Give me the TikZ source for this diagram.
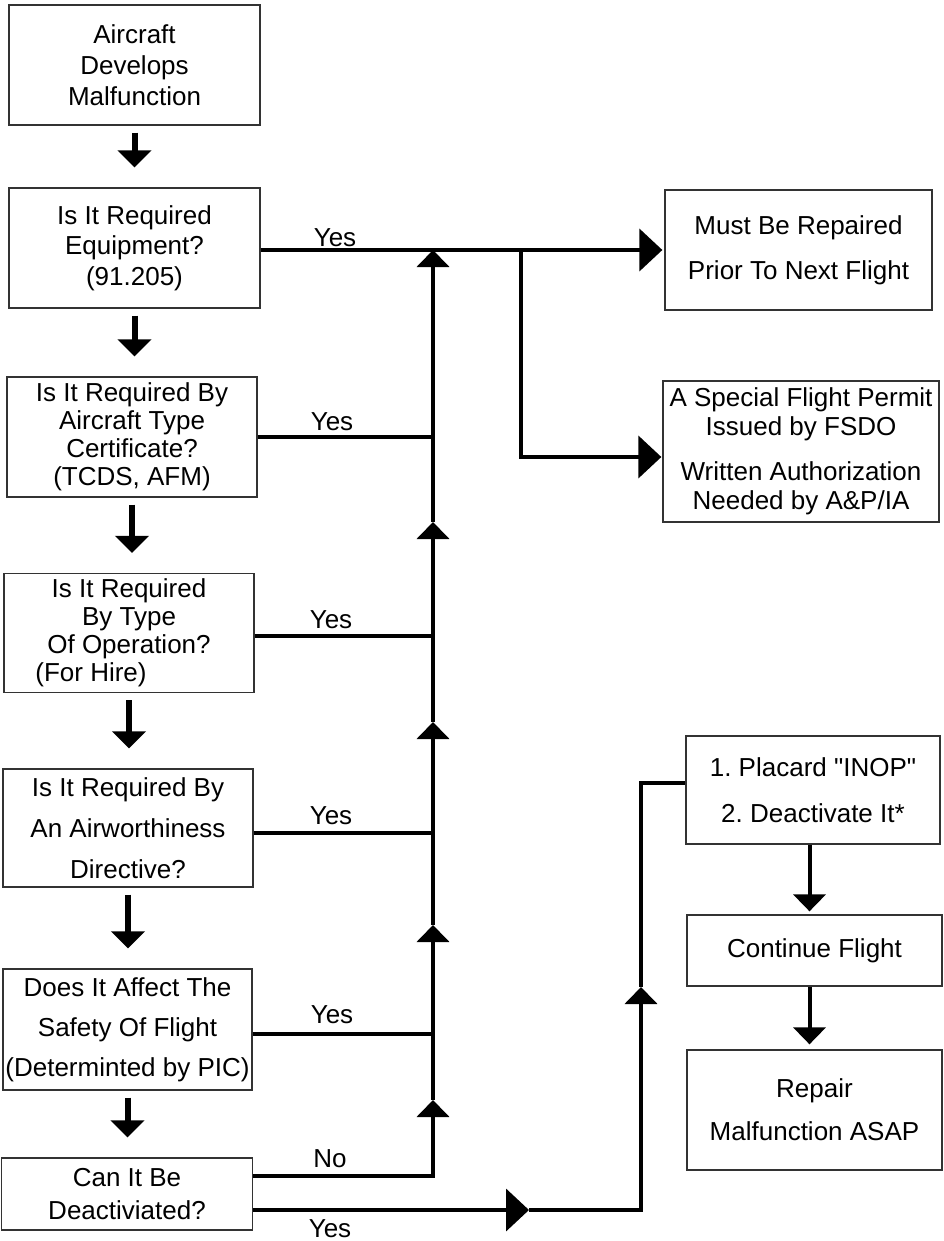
\documentclass[tikz,border=0pt]{standalone}
\usepackage{fontspec}
\setmainfont{Liberation Sans}[Ligatures=TeXOff]
\usetikzlibrary{arrows.meta,calc}
\begin{document}
\frenchspacing
\begin{tikzpicture}[x=1pt,y=-1pt,
  box/.style={draw=black!80,line width=1.3pt,inner sep=0pt,align=center,font=\fontsize{26}{31}\selectfont},
  conn/.style={line width=4pt},
  htip/.style={-{Triangle[length=23pt,width=42pt]}},
  vtip/.style={-{Triangle[length=17pt,width=32pt]}},
  blk/.style={line width=6pt,-{Triangle[length=17pt,width=33pt]}},
  lab/.style={font=\fontsize{26}{31}\selectfont,inner sep=0pt}]
\useasboundingbox (0,0) rectangle (943,1241);

% left column
\node[box,minimum width=251pt,minimum height=120pt] (b1) at (134.5,65) {Aircraft\\Develops\\Malfunction};
\node[box,minimum width=251pt,minimum height=120pt,font=\fontsize{26}{30.5}\selectfont] (b2) at (134.5,248) {Is It Required\\Equipment?\\(91.205)};
\node[box,minimum width=250pt,minimum height=120pt,font=\fontsize{26}{28}\selectfont] (b3) at (132,437) {Is It Required By\\Aircraft Type\\Certificate?\\(TCDS, AFM)};
\node[box,minimum width=250pt,minimum height=119pt,font=\fontsize{26}{28}\selectfont] (b4) at (129,633) {Is It Required\\By Type\\Of Operation?\\(For Hire)\hspace*{76pt}};
\node[box,minimum width=250pt,minimum height=118pt,font=\fontsize{26}{41}\selectfont] (b5) at (128,828) {Is It Required By\\An Airworthiness\\Directive?};
\node[box,minimum width=249pt,minimum height=121pt,font=\fontsize{26}{40}\selectfont] (b6) at (127.5,1029.5) {Does It Affect The\\Safety Of Flight\\(Determinted by PIC)};
\node[box,minimum width=251pt,minimum height=72pt,font=\fontsize{26}{33}\selectfont] (b7) at (127,1194) {Can It Be\\Deactiviated?};

% right column
\node[box,minimum width=267pt,minimum height=120pt,font=\fontsize{26}{45}\selectfont] (r1) at (798.5,250) {Must Be Repaired\\Prior To Next Flight};
\node[box,minimum width=276pt,minimum height=141pt,font=\fontsize{26}{28.5}\selectfont] (r2) at (801,451.5) {A Special Flight Permit\\Issued by FSDO\\[17pt]Written Authorization\\Needed by A\&P/IA};
\node[box,minimum width=254pt,minimum height=108pt,font=\fontsize{26}{46}\selectfont] (p1) at (813,790) {1. Placard "INOP"\\2. Deactivate It*};
\node[box,minimum width=255pt,minimum height=71pt] (c1) at (814.5,950.5) {Continue Flight};
\node[box,minimum width=255pt,minimum height=120pt,font=\fontsize{26}{43}\selectfont] (rp) at (814.5,1110) {Repair\\Malfunction ASAP};

% down block arrows (left)
\draw[blk] ([yshift=-7pt]b1.south) -- ([yshift=20pt]b1.south |- b2.north);
\draw[blk] ([yshift=-7pt]b2.south) -- ([yshift=20pt]b2.south |- b3.north);
\draw[blk] ([yshift=-7pt]b3.south) -- ([yshift=20pt]b3.south |- b4.north);
\draw[blk] ([yshift=-7pt]b4.south) -- ([yshift=20pt]b4.south |- b5.north);
\draw[blk] ([yshift=-7pt]b5.south) -- ([yshift=20pt]b5.south |- b6.north);
\draw[blk] ([yshift=-7pt]b6.south) -- ([yshift=20pt]b6.south |- b7.north);

% trunk coordinates
\coordinate (tA) at (433,250);
\coordinate (tB) at (433,522);
\coordinate (tC) at (433,722);
\coordinate (tD) at (433,925);
\coordinate (tE) at (433,1100);
\coordinate (tF) at (433,1176);
\coordinate (bA) at (521,250);
\coordinate (bB) at (521,457);
\coordinate (yA) at (529,1210);
\coordinate (yB) at (641,1210);
\coordinate (yC) at (641,987);
\coordinate (yD) at (641,783);

% yes line to repair
\draw[conn,htip,shorten >=2pt] (b2.east |- r1.west) -- (r1.west);
% branch to special permit
\draw[conn,htip,shorten >=1pt] (bA) -- (bB) -- (bB -| r2.west);

% trunk
\draw[conn,vtip] (b7.east |- tF) -- (tF) -- (tE);
\draw[conn,vtip] (tE) -- (tD);
\draw[conn,vtip] (tD) -- (tC);
\draw[conn,vtip] (tC) -- (tB);
\draw[conn,vtip] (tB) -- (tA);

% yes lines into trunk
\draw[conn] (b3.east) -- (b3.east -| tA);
\draw[conn] ([yshift=-3pt]b4.east) -- ([yshift=-3pt]b4.east -| tA);
\draw[conn] ([yshift=-5pt]b5.east) -- ([yshift=-5pt]b5.east -| tA);
\draw[conn] ([yshift=-4pt]b6.east) -- ([yshift=-4pt]b6.east -| tA);

% deactivate yes path
\draw[conn,htip] (b7.east |- yA) -- (yA);
\draw[conn,vtip] (yA) -- (yB) -- (yC);
\draw[conn] (yC) -- (yD) -- (yD -| p1.west);

% right down arrows
\draw[conn,vtip,shorten >=3pt] ([xshift=-5pt]c1.north |- p1.south) -- ([xshift=-5pt]c1.north);
\draw[conn,vtip,shorten >=5pt] ([xshift=-5pt]c1.south) -- ([xshift=-5pt]c1.south |- rp.north);

% labels
\node[lab] (l1) at (335,238) {Yes};
\node[lab] (l2) at (332,422) {Yes};
\node[lab] (l3) at (331,620) {Yes};
\node[lab] (l4) at (331,816) {Yes};
\node[lab] (l5) at (332,1015) {Yes};
\node[lab] (l6) at (330,1159) {No};
\node[lab] (l7) at (330,1229) {Yes};
\end{tikzpicture}
\end{document}
